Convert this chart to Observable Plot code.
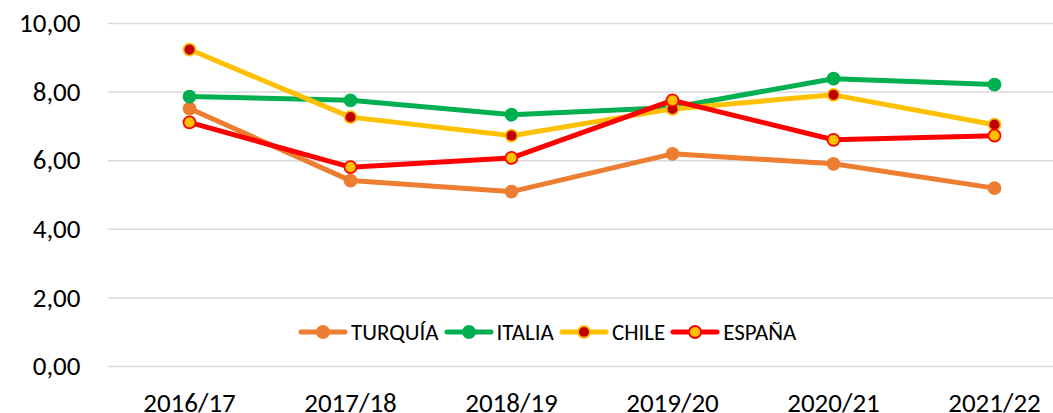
<!DOCTYPE html>
<html>
<head>
<meta charset="utf-8">
<script src="https://cdn.jsdelivr.net/npm/d3@7"></script>
<script src="https://cdn.jsdelivr.net/npm/@observablehq/plot@0.6"></script>
<style>
  body { margin: 0; background: #fff; }
  #wrap { position: relative; width: 1053px; height: 413px; font-family: Carlito, Calibri, Lato, sans-serif; }
  #legend { position: absolute; left: 298px; top: 318px; display: flex; align-items: center; font-size: 23px; color: #000; white-space: nowrap; }
  #legend .item { display: flex; align-items: center; margin-right: 5px; }
  #legend svg { margin-right: 3px; }
</style>
</head>
<body>
<div id="wrap"><div id="chart"></div><div id="legend"></div></div>
<script>
const years = ["2016/17", "2017/18", "2018/19", "2019/20", "2020/21", "2021/22"];
const turquia = [7.52, 5.42, 5.10, 6.20, 5.91, 5.20];
const italia  = [7.87, 7.76, 7.34, 7.55, 8.39, 8.22];
const chile   = [9.24, 7.27, 6.73, 7.51, 7.92, 7.05];
const espana  = [7.12, 5.81, 6.08, 7.76, 6.61, 6.73];
const yTicks = [0, 2, 4, 6, 8, 10];

const seriesNames = ["TURQUÍA", "ITALIA", "CHILE", "ESPAÑA"];
const seriesValues = [turquia, italia, chile, espana];
const styles = {
  "TURQUÍA": {line: "#ED7D31", fill: "#ED7D31", stroke: "#ED7D31"},
  "ITALIA":  {line: "#00B050", fill: "#00B050", stroke: "#00B050"},
  "CHILE":   {line: "#FFC000", fill: "#C00000", stroke: "#FFC000"},
  "ESPAÑA":  {line: "#FF0000", fill: "#FFC000", stroke: "#FF0000"}
};

const fmt = v => v.toFixed(2).replace(".", ",");

const marks = [
  Plot.ruleY(yTicks, {stroke: "#D9D9D9", strokeWidth: 1.5})
];
seriesNames.forEach((name, i) => {
  const data = years.map((y, j) => ({year: y, value: seriesValues[i][j]}));
  const s = styles[name];
  marks.push(Plot.line(data, {x: "year", y: "value", stroke: s.line, strokeWidth: 5, strokeLinejoin: "round", strokeLinecap: "round"}));
  marks.push(Plot.dot(data, {x: "year", y: "value", r: 6, fill: s.fill, stroke: s.stroke, strokeWidth: 1.8}));
});

const chart = Plot.plot({
  width: 1053,
  height: 413,
  marginLeft: 108,
  marginRight: 0,
  marginTop: 23,
  marginBottom: 47,
  style: {fontFamily: "Carlito, Calibri, Lato, sans-serif", fontSize: "27px", color: "#000", background: "#fff"},
  x: {type: "point", domain: years, range: [108, 1074], padding: 0.5, label: null, tickSize: 0, tickPadding: 26},
  y: {domain: [0, 10], ticks: yTicks, tickFormat: fmt, label: null, tickSize: 0, tickPadding: 28},
  marks
});
document.getElementById("chart").appendChild(chart);

const legend = document.getElementById("legend");
seriesNames.forEach(name => {
  const s = styles[name];
  const item = document.createElement("div");
  item.className = "item";
  item.innerHTML = `<svg width="50" height="20"><line x1="3" y1="10" x2="47" y2="10" stroke="${s.line}" stroke-width="5" stroke-linecap="round"/><circle cx="25" cy="10" r="6" fill="${s.fill}" stroke="${s.stroke}" stroke-width="1.8"/></svg><span>${name}</span>`;
  legend.appendChild(item);
});
</script>
</body>
</html>
